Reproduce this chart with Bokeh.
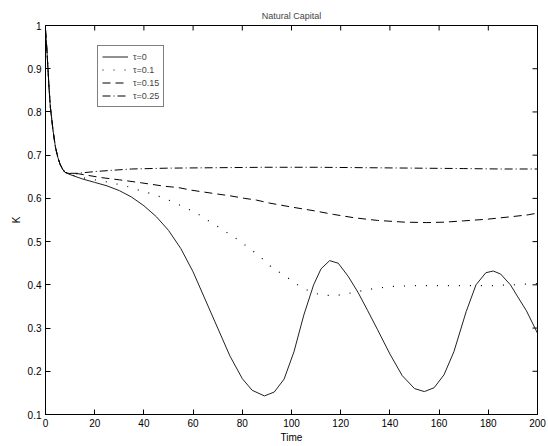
import math
from bokeh.plotting import figure
from bokeh.models import (Range1d, FixedTicker, CustomJSTickFormatter,
                          Legend, LegendItem)
from bokeh.embed import file_html
from bokeh.resources import INLINE

# ---------------- data ----------------
title_text = "Natural Capital"
x_label = "Time"
y_label = "K"

x_ticks = [0, 20, 40, 60, 80, 100, 120, 140, 160, 180, 200]
y_ticks = [0.1, 0.2, 0.3, 0.4, 0.5, 0.6, 0.7, 0.8, 0.9, 1.0]

series_labels = ["τ=0", "τ=0.1", "τ=0.15", "τ=0.25"]

# tau = 0 (solid)
t0 = [0, 0.5, 1, 1.5, 2, 3, 4, 5, 6, 7, 8, 10, 15, 20, 25, 30, 35, 40, 45, 50, 55,
      60, 65, 70, 75, 80, 84, 89, 93, 97, 101, 105, 109, 112, 115.5, 119, 123, 127,
      131, 135, 140, 145, 150, 154, 158, 162, 166, 171, 175, 179, 182, 185, 189,
      192, 195.5, 200]
k0 = [0.99, 0.95, 0.90, 0.85, 0.81, 0.76, 0.72, 0.695, 0.678, 0.667, 0.66, 0.655,
      0.645, 0.637, 0.629, 0.618, 0.603, 0.583, 0.558, 0.526, 0.484, 0.430, 0.365,
      0.300, 0.235, 0.183, 0.156, 0.143, 0.152, 0.182, 0.245, 0.330, 0.400, 0.437,
      0.456, 0.450, 0.420, 0.383, 0.340, 0.296, 0.240, 0.190, 0.160, 0.153, 0.162,
      0.192, 0.245, 0.338, 0.400, 0.428, 0.432, 0.425, 0.400, 0.372, 0.340, 0.288]

# tau = 0.1 (dotted)
t1 = [0, 0.5, 1, 1.5, 2, 3, 4, 5, 6, 7, 8, 10, 15, 20, 25, 30, 35, 39, 43, 48.5, 54,
      61.4, 66, 71.5, 78.3, 86.5, 92, 97.3, 103, 108, 112.6, 118, 125, 132, 140,
      148.4, 158, 164, 170, 180.6, 190, 200]
k1 = [0.99, 0.95, 0.90, 0.85, 0.81, 0.76, 0.72, 0.695, 0.678, 0.667, 0.66, 0.655,
      0.648, 0.643, 0.638, 0.632, 0.625, 0.617, 0.611, 0.600, 0.586, 0.566, 0.549,
      0.530, 0.504, 0.469, 0.440, 0.421, 0.398, 0.383, 0.376, 0.375, 0.382, 0.390,
      0.396, 0.398, 0.398, 0.398, 0.398, 0.398, 0.400, 0.403]

# tau = 0.15 (dashed)
t2 = [0, 0.5, 1, 1.5, 2, 3, 4, 5, 6, 7, 8, 10, 13.3, 22.8, 30, 39, 48.5, 54, 59.3,
      64, 70, 75, 81, 85.8, 91.2, 100, 109.5, 117, 125.7, 135, 146, 155, 162.3, 170,
      179.9, 190, 196.2, 200]
k2 = [0.99, 0.95, 0.90, 0.85, 0.81, 0.76, 0.72, 0.695, 0.678, 0.667, 0.66, 0.657,
      0.657, 0.648, 0.643, 0.636, 0.628, 0.625, 0.619, 0.615, 0.610, 0.606, 0.600,
      0.596, 0.589, 0.580, 0.571, 0.563, 0.555, 0.549, 0.545, 0.544, 0.545, 0.548,
      0.552, 0.558, 0.562, 0.566]

# tau = 0.25 (dash-dot)
t3 = [0, 0.5, 1, 1.5, 2, 3, 4, 5, 6, 7, 8, 10, 13, 20, 27, 35, 50, 70, 90, 110, 130,
      150, 170, 185, 200]
k3 = [0.99, 0.95, 0.90, 0.85, 0.81, 0.76, 0.72, 0.695, 0.678, 0.667, 0.66, 0.658,
      0.658, 0.662, 0.665, 0.668, 0.670, 0.671, 0.672, 0.672, 0.671, 0.670, 0.669,
      0.668, 0.668]

# ---------------- figure ----------------
FONT = "Liberation Sans"
X_MIN, X_MAX = 0, 200
Y_MIN, Y_MAX = 0.1, 1.0

p = figure(width=548, height=446, output_backend="svg", toolbar_location=None,
           x_range=Range1d(X_MIN, X_MAX), y_range=Range1d(Y_MIN, Y_MAX),
           min_border_left=45, min_border_right=11, min_border_top=25,
           min_border_bottom=32)

p.title.text = title_text
p.title.align = "center"
p.title.text_font = FONT
p.title.text_font_size = "9px"
p.title.text_font_style = "normal"
p.title.standoff = 10

p.xgrid.visible = False
p.ygrid.visible = False
p.outline_line_color = "black"
p.outline_line_width = 1
p.background_fill_color = "white"
p.border_fill_color = "white"

fmt = CustomJSTickFormatter(code="return String(Math.round(tick*10)/10);")

for ax, ticks in ((p.xaxis[0], x_ticks), (p.yaxis[0], y_ticks)):
    ax.ticker = FixedTicker(ticks=ticks)
    ax.formatter = fmt
    ax.major_tick_in = 5
    ax.major_tick_out = 0
    ax.minor_tick_line_color = None
    ax.axis_line_color = "black"
    ax.major_tick_line_color = "black"
    ax.major_label_text_font = FONT
    ax.major_label_text_font_size = "10px"
    ax.major_label_text_color = "black"
    ax.axis_label_text_font = FONT
    ax.axis_label_text_font_size = "10px"
    ax.axis_label_text_font_style = "normal"
    ax.axis_label_text_color = "black"

p.xaxis[0].axis_label = x_label
p.xaxis[0].major_label_standoff = 4
p.xaxis[0].axis_label_standoff = 2
p.yaxis[0].axis_label = y_label
p.yaxis[0].major_label_standoff = 4
p.yaxis[0].axis_label_standoff = 3

# mirrored tick marks on the top and right edges (5 px, pointing inward)
p.ray(x=x_ticks, y=[Y_MAX] * len(x_ticks), length=5, length_units="screen",
      angle=-math.pi / 2, line_color="black", line_width=1)
p.ray(x=[X_MAX] * len(y_ticks), y=y_ticks, length=5, length_units="screen",
      angle=math.pi, line_color="black", line_width=1)

r0 = p.line(t0, k0, line_color="#222222", line_width=1)
r1 = p.line(t1, k1, line_color="black", line_width=1.2, line_dash="1 10")
r2 = p.line(t2, k2, line_color="black", line_width=1, line_dash="8 5")
r3 = p.line(t3, k3, line_color="black", line_width=1, line_dash="8 3 1 3")

legend = Legend(items=[LegendItem(label=series_labels[0], renderers=[r0]),
                       LegendItem(label=series_labels[1], renderers=[r1]),
                       LegendItem(label=series_labels[2], renderers=[r2]),
                       LegendItem(label=series_labels[3], renderers=[r3])],
                location=(52, 307), margin=0, padding=4, spacing=0,
                glyph_width=26, glyph_height=13, label_height=13,
                label_standoff=5, label_text_font=FONT,
                label_text_font_size="9px", border_line_color="black",
                border_line_width=1, background_fill_color="white",
                background_fill_alpha=1.0)
p.add_layout(legend)

open("out.html", "w").write(file_html(p, INLINE))
